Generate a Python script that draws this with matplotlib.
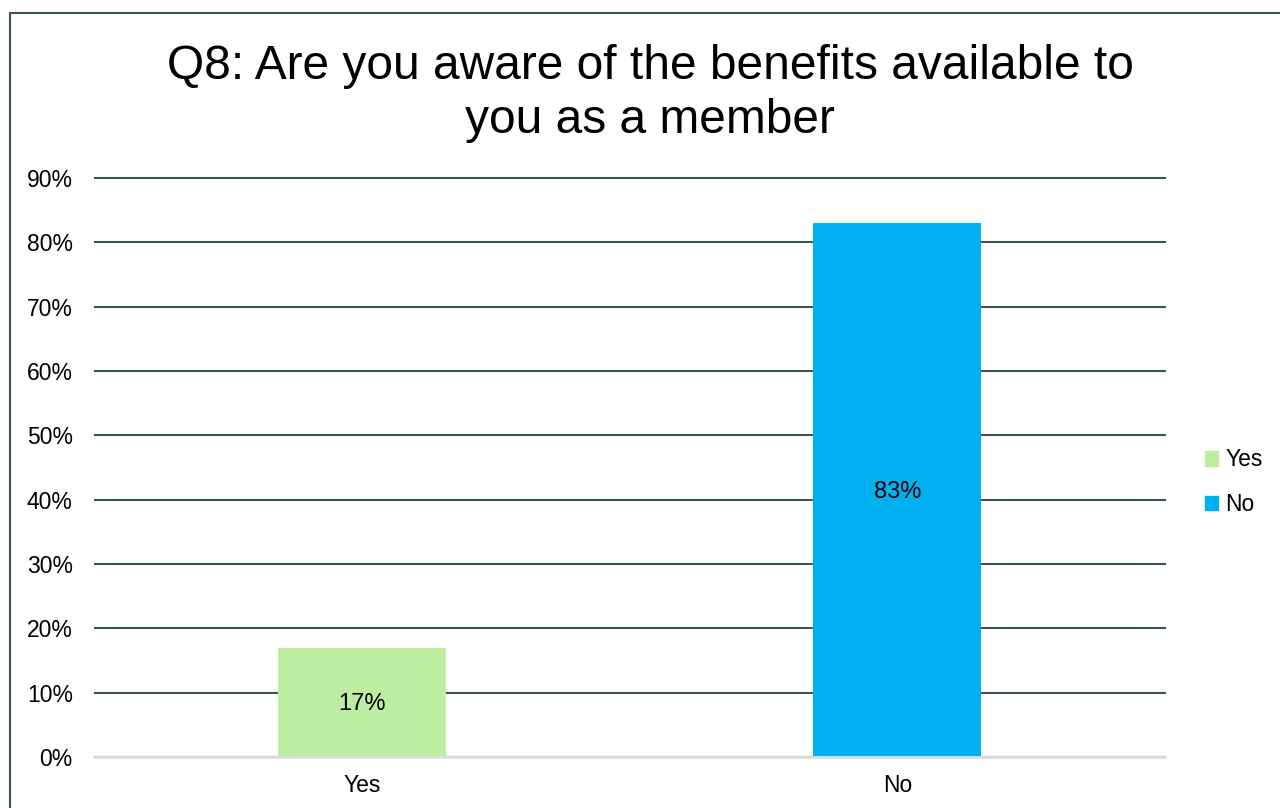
import matplotlib.pyplot as plt
from matplotlib.lines import Line2D
from matplotlib.patches import Patch

categories = ["Yes", "No"]
values = [0.17, 0.83]
colors = ["#bdeda0", "#00b0f0"]
y_ticks = [0, 0.1, 0.2, 0.3, 0.4, 0.5, 0.6, 0.7, 0.8, 0.9]

plt.rcParams['font.family'] = ['Liberation Sans', 'DejaVu Sans']

fig = plt.figure(figsize=(12.8, 8.08), dpi=100)
ax = fig.add_axes([0.0742, 0.0631, 0.8358, 0.7166])

x = range(len(categories))
bars = ax.bar(x, values, width=0.314, color=colors, zorder=3)
for b, v in zip(bars, values):
    ax.text(b.get_x() + b.get_width() / 2, v / 2 - 0.003, f"{v:.0%}",
            ha='center', va='center', fontsize=17, zorder=4)

ax.set_xlim(-0.5, 1.5)
ax.set_ylim(0, 0.9)
ax.set_yticks(y_ticks)
ax.set_yticklabels([f"{t:.0%}" for t in y_ticks], fontsize=16.5)
ax.set_xticks(list(x))
ax.set_xticklabels(categories, fontsize=16.5)
ax.tick_params(length=0, pad=16)
ax.tick_params(axis='x', pad=12)

ax.grid(axis='y', color='#3f5459', linewidth=1.5, zorder=0)
for gl in ax.get_ygridlines():
    gl.set_clip_on(False)
for s in ['top', 'right', 'left']:
    ax.spines[s].set_visible(False)
ax.spines['bottom'].set_color('#d9e1e2')
ax.spines['bottom'].set_linewidth(2)
ax.spines['bottom'].set_zorder(5)

fig.text(0.508, 0.884, "Q8: Are you aware of the benefits available to\nyou as a member",
         ha='center', va='center', fontsize=34.5, linespacing=1.27)

handles = [Patch(color=c, label=l) for c, l in zip(colors, categories)]
fig.legend(handles=handles, loc='center left', bbox_to_anchor=(0.925, 0.403),
           frameon=False, fontsize=16.5, handlelength=0.6, handleheight=0.6,
           handletextpad=0.3, labelspacing=0.95)

# outer chart border
fig.add_artist(Line2D([0.0075, 0.0075], [0, 0.984], color='#3f5459', linewidth=1.5))
fig.add_artist(Line2D([0.0075, 1], [0.984, 0.984], color='#3f5459', linewidth=1.5))

fig.savefig("out.png", dpi=100)
